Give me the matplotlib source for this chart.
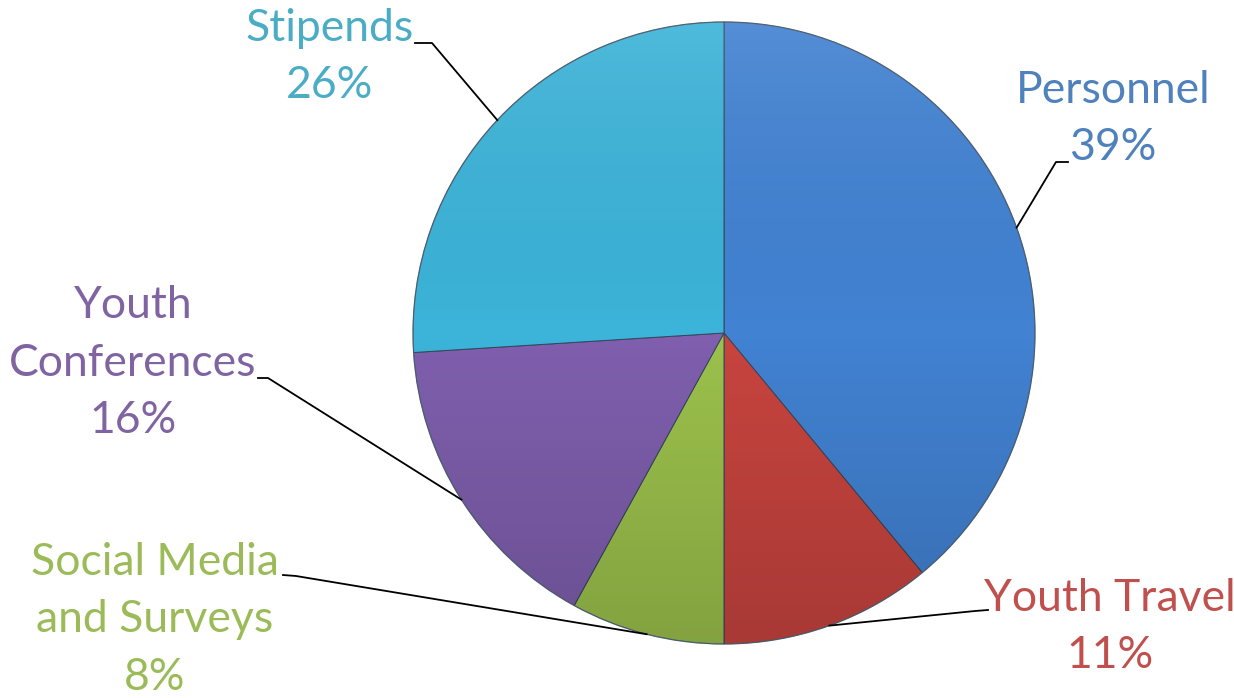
# libraries
import numpy as np
import matplotlib.pyplot as plt
from matplotlib.patches import Circle
from matplotlib.colors import LinearSegmentedColormap

# data
categories = ['Personnel', 'Youth Travel', 'Social Media\nand Surveys', 'Youth\nConferences', 'Stipends']
shares = [39, 11, 8, 16, 26]
fill_colors = ['#4282d2', '#c8443f', '#9cc14c', '#7f5fae', '#3cb3d8']
text_colors = ['#4f81bd', '#c0504d', '#9bbb59', '#8064a2', '#4bacc6']

W, H = 1234, 698
cx, cy, R = 724, H - 333, 311

# label centres and leader elbows (pixel coords, y from top)
label_pos = [(1113, 119), (1110, 627), (155, 620), (133, 363), (330, 57)]
elbows = [((1068, 162), (1056, 162)),
          ((988, 610), (975, 611)),
          ((283, 575), (296, 576)),
          ((258, 378), (268, 378)),
          ((415, 43), (432, 43))]

fig = plt.figure(figsize=(W / 100, H / 100), dpi=100)
ax = fig.add_axes([0, 0, 1, 1])

wedges, _ = ax.pie(shares, colors=fill_colors, startangle=90, counterclock=False,
                   center=(cx, cy), radius=R, frame=True,
                   wedgeprops=dict(edgecolor='#33475a', linewidth=0.7))
ax.set_xlim(0, W)
ax.set_ylim(0, H)
ax.set_aspect('equal')
ax.axis('off')

# light top, darker bottom shading over the whole pie
shade = LinearSegmentedColormap.from_list('shade', [(1, 1, 1, 0.10), (0, 0, 0, 0.0), (0, 0, 0, 0.16)])
grad = np.linspace(0, 1, 256).reshape(-1, 1)
im = ax.imshow(grad, cmap=shade, extent=(cx - R, cx + R, cy - R, cy + R), origin='upper',
               aspect='auto', zorder=3)
im.set_clip_path(Circle((cx, cy), R, transform=ax.transData))
ax.add_patch(Circle((cx, cy), R, fill=False, edgecolor='#5a6a7a', linewidth=1.0, alpha=0.5, zorder=4))

# labels and leader lines
for w, lab, share, (lx, ly), (p_txt, p_elb), tc in zip(wedges, categories, shares, label_pos, elbows, text_colors):
    ang = np.deg2rad((w.theta1 + w.theta2) / 2)
    ex, ey = cx + R * np.cos(ang), cy + R * np.sin(ang)
    xs = [p_txt[0], p_elb[0], ex]
    ys = [H - p_txt[1], H - p_elb[1], ey]
    ax.plot(xs, ys, color='black', linewidth=1.3, zorder=5)
    ax.text(lx, H - ly, f'{lab}\n{share}%', ha='center', va='center', color=tc,
            fontsize=32, family='Lato', linespacing=1.5, zorder=6)

fig.savefig('out.png', dpi=100)
